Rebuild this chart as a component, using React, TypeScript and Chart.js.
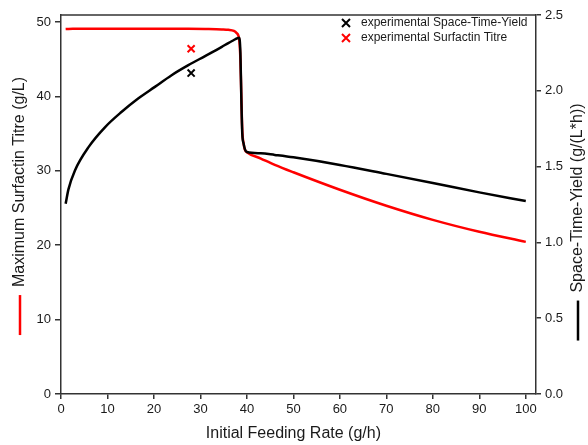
import React, { useEffect, useRef } from "react";
import { Chart, registerables } from "chart.js";

Chart.register(...registerables);

// Shared x values (Initial Feeding Rate, g/h)
const feedRate = [1, 1.6, 3, 6, 9.5, 13, 16.6, 20.2, 23.8, 27.4, 31, 34.6, 36, 37.2, 37.8, 38.3, 38.6, 38.8, 39, 39.3, 39.6, 40, 43, 46, 50, 60, 70, 80, 90, 100];
// Maximum Surfactin Titre (g/L), left axis
const titre = [49.05, 49.07, 49.08, 49.1, 49.1, 49.1, 49.1, 49.1, 49.1, 49.08, 49.05, 49.0, 48.95, 48.8, 48.5, 47.8, 45, 40, 35.5, 33.6, 32.8, 32.5, 31.65, 30.8, 29.8, 27.45, 25.3, 23.4, 21.8, 20.45];
// Space-Time-Yield (g/(L*h)), right axis
const sty = [1.255, 1.35, 1.475, 1.632, 1.761, 1.86, 1.949, 2.026, 2.103, 2.169, 2.229, 2.29, 2.315, 2.335, 2.345, 2.35, 2.25, 1.95, 1.72, 1.65, 1.612, 1.596, 1.588, 1.577, 1.561, 1.511, 1.452, 1.392, 1.33, 1.273];

// Experimental points
const expFeed = [28];
const expSTY = [2.117];
const expTitre = [46.4];

const xTitle = "Initial Feeding Rate (g/h)";
const yLeftTitle = "Maximum Surfactin Titre (g/L)";
const yRightTitle = "Space-Time-Yield (g/(L*h))";

const FONT = "'Liberation Sans', Arial, sans-serif";
const TEXT = "#1a1a1a";
const AXIS = "#333333";
const RED = "#ff0000";
const BLACK = "#000000";

const framePlugin = {
  id: "frameAndTitles",
  afterDraw(chart: any) {
    const ctx = chart.ctx;
    const a = chart.chartArea;
    ctx.save();
    // top border
    ctx.strokeStyle = AXIS;
    ctx.lineWidth = 1.5;
    ctx.beginPath();
    ctx.moveTo(a.left, a.top);
    ctx.lineTo(a.right, a.top);
    ctx.stroke();

    // x title
    ctx.fillStyle = TEXT;
    ctx.font = `16px ${FONT}`;
    ctx.textAlign = "center";
    ctx.textBaseline = "middle";
    const xs = chart.scales.x;
    const cx = (xs.getPixelForValue(0) + xs.getPixelForValue(100)) / 2;
    ctx.fillText(xTitle, cx, 434);

    // rotated titles with line markers
    const drawRot = (text: string, x: number, cy: number, color: string) => {
      ctx.save();
      ctx.translate(x, cy);
      ctx.rotate(-Math.PI / 2);
      ctx.font = `16px ${FONT}`;
      const w = ctx.measureText(text).width;
      const lineLen = 40;
      const gap = 8;
      const total = lineLen + gap + w;
      const start = -total / 2;
      ctx.strokeStyle = color;
      ctx.lineWidth = 2.5;
      ctx.beginPath();
      ctx.moveTo(start, 0);
      ctx.lineTo(start + lineLen, 0);
      ctx.stroke();
      ctx.fillStyle = TEXT;
      ctx.textAlign = "left";
      ctx.textBaseline = "middle";
      ctx.fillText(text, start + lineLen + gap, 0);
      ctx.restore();
    };
    drawRot(yLeftTitle, 20, 206, RED);
    drawRot(yRightTitle, 578, 222, BLACK);

    // legend (top-right inside plot)
    const items = [chart.data.datasets[2], chart.data.datasets[3]];
    ctx.font = `12px ${FONT}`;
    items.forEach((ds: any, i: number) => {
      const y = 23 + i * 15;
      const mx = 346;
      const r = 4;
      ctx.strokeStyle = ds.borderColor;
      ctx.lineWidth = 2;
      ctx.beginPath();
      ctx.moveTo(mx - r, y - r);
      ctx.lineTo(mx + r, y + r);
      ctx.moveTo(mx + r, y - r);
      ctx.lineTo(mx - r, y + r);
      ctx.stroke();
      ctx.fillStyle = TEXT;
      ctx.textAlign = "left";
      ctx.textBaseline = "middle";
      ctx.fillText(ds.label, 361, y);
    });
    ctx.restore();
  },
};

export default function App() {
  const ref = useRef<HTMLCanvasElement | null>(null);

  useEffect(() => {
    if (!ref.current) return;
    const tickFont = { family: FONT, size: 13 };
    const chart = new Chart(ref.current, {
      type: "line",
      data: {
        datasets: [
          {
            label: "Maximum Surfactin Titre",
            data: feedRate.map((x, i) => ({ x, y: titre[i] })),
            yAxisID: "y",
            borderColor: RED,
            backgroundColor: RED,
            borderWidth: 2.5,
            pointRadius: 0,
            cubicInterpolationMode: "monotone",
            order: 3,
          },
          {
            label: "Space-Time-Yield",
            data: feedRate.map((x, i) => ({ x, y: sty[i] })),
            yAxisID: "y1",
            borderColor: BLACK,
            backgroundColor: BLACK,
            borderWidth: 2.5,
            pointRadius: 0,
            cubicInterpolationMode: "monotone",
            order: 2,
          },
          {
            type: "scatter",
            label: "experimental Space-Time-Yield",
            data: expFeed.map((x, i) => ({ x, y: expSTY[i] })),
            yAxisID: "y1",
            borderColor: BLACK,
            backgroundColor: BLACK,
            pointStyle: "crossRot",
            pointRadius: 5,
            borderWidth: 2,
            showLine: false,
            order: 1,
          },
          {
            type: "scatter",
            label: "experimental Surfactin Titre",
            data: expFeed.map((x, i) => ({ x, y: expTitre[i] })),
            yAxisID: "y",
            borderColor: RED,
            backgroundColor: RED,
            pointStyle: "crossRot",
            pointRadius: 5,
            borderWidth: 2,
            showLine: false,
            order: 0,
          },
        ] as any,
      },
      options: {
        responsive: false,
        animation: false,
        layout: { padding: { top: 15, left: 0, right: 0, bottom: 0 } },
        plugins: { legend: { display: false }, tooltip: { enabled: false } },
        scales: {
          x: {
            type: "linear",
            min: 0,
            max: 102.2,
            ticks: { stepSize: 10, includeBounds: false, font: tickFont, color: TEXT, padding: 3, maxRotation: 0 },
            grid: { drawOnChartArea: false, drawTicks: true, tickLength: 5, color: AXIS, lineWidth: 1.5 },
            border: { color: AXIS, width: 1.5 },
            afterFit: (s: any) => { s.height = 51; },
          },
          y: {
            type: "linear",
            position: "left",
            min: 0,
            max: 50.94,
            ticks: { stepSize: 10, includeBounds: false, font: tickFont, color: TEXT, padding: 4 },
            grid: { drawOnChartArea: false, drawTicks: true, tickLength: 6, color: AXIS, lineWidth: 1.5 },
            border: { color: AXIS, width: 1.5 },
            afterFit: (s: any) => { s.width = 61; },
          },
          y1: {
            type: "linear",
            position: "right",
            min: 0,
            max: 2.5,
            ticks: { stepSize: 0.5, font: tickFont, color: TEXT, padding: 4, callback: (v: any) => Number(v).toFixed(1) },
            grid: { drawOnChartArea: false, drawTicks: true, tickLength: 5, color: AXIS, lineWidth: 1.5 },
            border: { color: AXIS, width: 1.5 },
            afterFit: (s: any) => { s.width = 52; },
          },
        },
      } as any,
      plugins: [framePlugin],
    });
    return () => chart.destroy();
  }, []);

  return (
    <div style={{ position: "fixed", left: 0, top: 0, width: 588, height: 445, background: "#fff" }}>
      <canvas ref={ref} width={588} height={445} style={{ width: 588, height: 445, display: "block" }} />
    </div>
  );
}
